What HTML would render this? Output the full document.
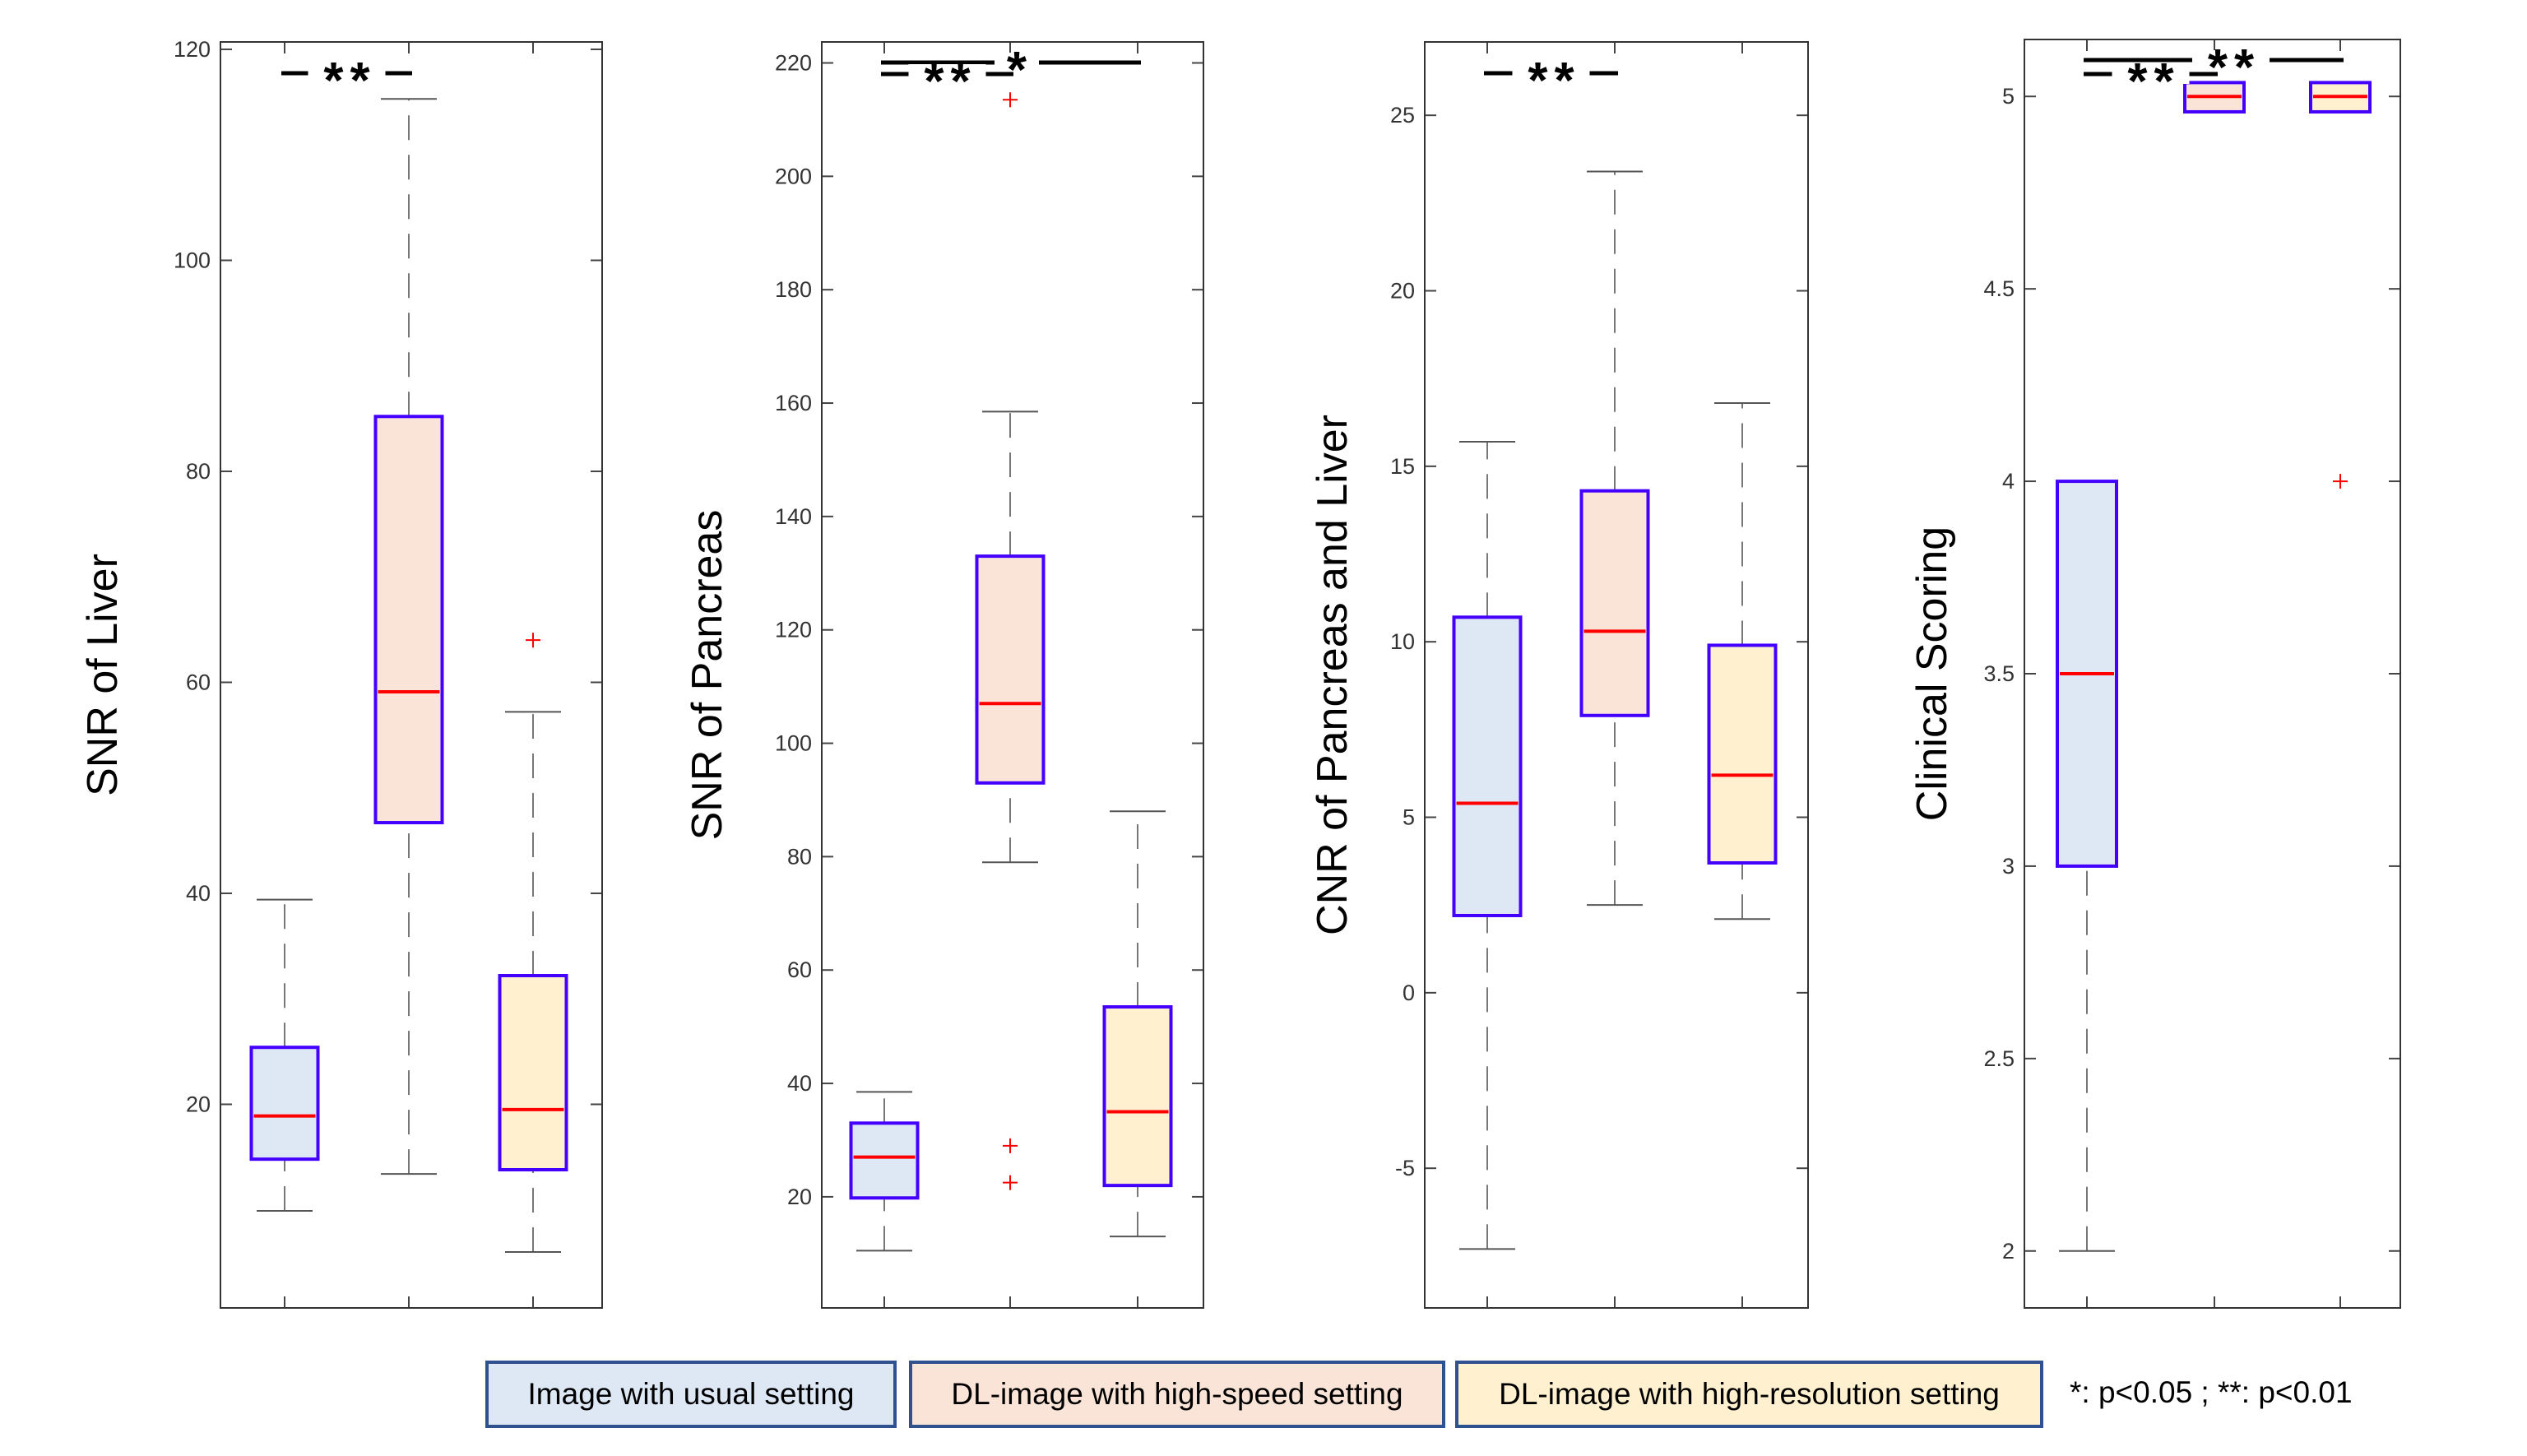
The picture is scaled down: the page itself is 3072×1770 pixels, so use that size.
<!DOCTYPE html>
<html><head><meta charset="utf-8">
<style>
html,body{margin:0;padding:0;background:#fff;}
body{width:3072px;height:1770px;position:relative;overflow:hidden;font-family:"Liberation Sans",sans-serif;}
.leg{position:absolute;top:1654px;height:82px;box-sizing:border-box;border:4px solid #2F528F;font-family:"Liberation Sans",sans-serif;font-size:37px;color:#000;display:flex;align-items:center;justify-content:center;white-space:nowrap;}
</style></head>
<body>
<svg id="chart" width="3072" height="1640" style="position:absolute;left:0;top:0"></svg>
<div class="leg" style="left:590px;width:500px;background:#DEE8F5">Image with usual setting</div>
<div class="leg" style="left:1105px;width:652px;background:#FAE4D7">DL-image with high-speed setting</div>
<div class="leg" style="left:1769px;width:715px;background:#FFF1CF">DL-image with high-resolution setting</div>
<div style="position:absolute;left:2516px;top:1668px;font-size:37px;line-height:50px;color:#000;white-space:nowrap">*: p&lt;0.05 ; **: p&lt;0.01</div>
<script>
const categories = ["Image with usual setting","DL-image with high-speed setting","DL-image with high-resolution setting"];
const fills = ["#DEE8F5","#FAE4D7","#FFF1CF"];
// [low whisker, q1, median, q3, high whisker]
const liverStats = [[9.9,14.8,18.9,25.4,39.4],[13.4,46.7,59.1,85.2,115.3],[6.0,13.8,19.5,32.2,57.2]];
const liverOutliers = [[],[],[64]];
const liverTicks = [20,40,60,80,100,120];
const pancStats = [[10.5,19.8,27,33,38.5],[79,93,107,133,158.5],[13,22,35,53.5,88]];
const pancOutliers = [[],[213.5,29,22.5],[]];
const pancTicks = [20,40,60,80,100,120,140,160,180,200,220];
const cnrStats = [[-7.3,2.2,5.4,10.7,15.7],[2.5,7.9,10.3,14.3,23.4],[2.1,3.7,6.2,9.9,16.8]];
const cnrOutliers = [[],[],[]];
const cnrTicks = [-5,0,5,10,15,20,25];
const clinStats = [[2,3,3.5,4,4],[4.96,4.96,5,5.036,5.036],[4.96,4.96,5,5.036,5.036]];
const clinOutliers = [[],[],[4]];
const clinTicks = [2,2.5,3,3.5,4,4.5,5];

const NS="http://www.w3.org/2000/svg";
const svg=document.getElementById('chart');
function mk(tag,attrs,parent){const e=document.createElementNS(NS,tag);for(const k in attrs)e.setAttribute(k,attrs[k]);(parent||svg).appendChild(e);return e;}

const panels=[
 {name:'snr-liver',title:'SNR of Liver',x0:268,x1:732,y0:51,y1:1590,vmin:0.7,vmax:120.7,stats:liverStats,out:liverOutliers,ticks:liverTicks,centers:[346,497,648],bw:81,titleX:142,
  sig:[{a:0,b:1,y:89,label:'**'}]},
 {name:'snr-pancreas',title:'SNR of Pancreas',x0:999,x1:1463,y0:51,y1:1590,vmin:0.4,vmax:223.7,stats:pancStats,out:pancOutliers,ticks:pancTicks,centers:[1075,1228,1383],bw:81,titleX:877,
  sig:[{a:0,b:2,y:76,label:'*',lx:1236},{a:0,b:1,y:90,label:'**'}]},
 {name:'cnr-pancreas-liver',title:'CNR of Pancreas and Liver',x0:1732,x1:2198,y0:51,y1:1590,vmin:-8.98,vmax:27.09,stats:cnrStats,out:cnrOutliers,ticks:cnrTicks,centers:[1808,1963,2118],bw:81,titleX:1637,
  sig:[{a:0,b:1,y:89,label:'**'}]},
 {name:'clinical-scoring',title:'Clinical Scoring',x0:2461,x1:2918,y0:48,y1:1590,vmin:1.852,vmax:5.148,stats:clinStats,out:clinOutliers,ticks:clinTicks,centers:[2537,2692,2845],bw:72,titleX:2366,
  sig:[{a:0,b:2,y:73,label:'**',lx:2712},{a:0,b:1,y:90,label:'**'}]}
];

panels.forEach(p=>{
  const g=mk('g',{});
  
  
  const Y=v=>p.y1-(v-p.vmin)/(p.vmax-p.vmin)*(p.y1-p.y0);
  p.ticks.forEach(t=>{
    const y=Y(t);
    mk('line',{x1:p.x0,x2:p.x0+14,y1:y,y2:y,stroke:'#444','stroke-width':2},g);
    mk('line',{x1:p.x1-14,x2:p.x1,y1:y,y2:y,stroke:'#444','stroke-width':2},g);
    const tx=mk('text',{x:p.x0-12,y:y+9,'text-anchor':'end','font-size':27,fill:'#333','font-family':'Liberation Sans, sans-serif'},g);
    tx.textContent=String(t);
    
    
  });
  p.centers.forEach(cx=>{
    mk('line',{x1:cx,x2:cx,y1:p.y0,y2:p.y0+14,stroke:'#444','stroke-width':2},g);
    mk('line',{x1:cx,x2:cx,y1:p.y1-14,y2:p.y1,stroke:'#444','stroke-width':2},g);
  });
  p.stats.forEach((s,i)=>{
    const cx=p.centers[i],hw=p.bw/2;
    const bg=mk('g',{},g);
    
    
    const capw=34;
    if(s[0]<s[1]){mk('line',{x1:cx,x2:cx,y1:Y(s[0]),y2:Y(s[1]),stroke:'#777','stroke-width':2,'stroke-dasharray':'30,18'},bg);
      mk('line',{x1:cx-capw,x2:cx+capw,y1:Y(s[0]),y2:Y(s[0]),stroke:'#555','stroke-width':2},bg);}
    if(s[4]>s[3]){mk('line',{x1:cx,x2:cx,y1:Y(s[3]),y2:Y(s[4]),stroke:'#777','stroke-width':2,'stroke-dasharray':'30,18'},bg);
      mk('line',{x1:cx-capw,x2:cx+capw,y1:Y(s[4]),y2:Y(s[4]),stroke:'#555','stroke-width':2},bg);}
    mk('rect',{x:cx-hw,y:Y(s[3]),width:p.bw,height:Y(s[1])-Y(s[3]),fill:fills[i],stroke:'#4400FF','stroke-width':4},bg);
    mk('line',{x1:cx-hw+3,x2:cx+hw-3,y1:Y(s[2]),y2:Y(s[2]),stroke:'#FF0000','stroke-width':4},bg);
    p.out[i].forEach(o=>{
      const oy=Y(o);
      const og=mk('g',{},bg);
      
      
      mk('line',{x1:cx-9,x2:cx+9,y1:oy,y2:oy,stroke:'#FF0000','stroke-width':2},og);
      mk('line',{x1:cx,x2:cx,y1:oy-9,y2:oy+9,stroke:'#FF0000','stroke-width':2},og);
    });
  });
  const fr=mk('rect',{x:p.x0,y:p.y0,width:p.x1-p.x0,height:p.y1-p.y0,fill:'none',stroke:'#333','stroke-width':2},g);
  
  
  p.sig.forEach(sg=>{
    const xa=p.centers[sg.a],xb=p.centers[sg.b];
    const lx=sg.lx||(xa+xb)/2;
    const sgG=mk('g',{},g);
    
    
    mk('line',{x1:xa-4,x2:xb+4,y1:sg.y,y2:sg.y,stroke:'#000','stroke-width':5},sgG);
    const w=sg.label.length*40+14;
    mk('rect',{x:lx-w/2,y:sg.y-12,width:w,height:24,fill:'#fff'},sgG);
    const t=mk('text',{x:lx+4,y:sg.y+30,'text-anchor':'middle','font-size':62,'font-weight':'bold','letter-spacing':8,fill:'#000','font-family':'Liberation Sans, sans-serif'},sgG);
    t.textContent=sg.label;
  });
  const cy=(p.y0+p.y1)/2;
  const tt=mk('text',{x:p.titleX,y:cy,'text-anchor':'middle','font-size':52,fill:'#000',transform:`rotate(-90 ${p.titleX} ${cy})`,'font-family':'Liberation Sans, sans-serif'},g);
  tt.textContent=p.title;
  
  
});
</script>
</body></html>
